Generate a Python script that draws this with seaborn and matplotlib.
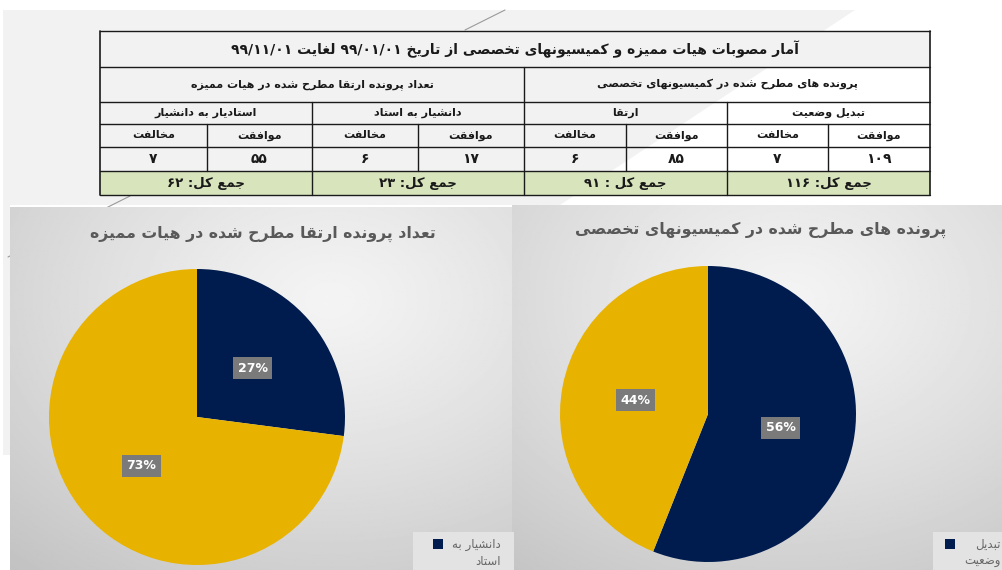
import re
import numpy as np
import matplotlib
matplotlib.use("Agg")
import matplotlib.pyplot as plt
import seaborn as sns
from matplotlib.patches import Rectangle, Polygon

sns.set_theme(style="white")
plt.rcParams['font.family'] = ['DejaVu Sans']

# ---- data (right to left, as in the table) ----
table_title = "آمار مصوبات هیات ممیزه و کمیسیونهای تخصصی از تاریخ ۹۹/۰۱/۰۱ لغایت ۹۹/۱۱/۰۱"
group_titles = ["پرونده های مطرح شده در کمیسیونهای تخصصی",
                "تعداد پرونده ارتقا مطرح شده در هیات ممیزه"]
categories = ["تبدیل وضعیت", "ارتقا", "دانشیار به استاد", "استادیار به دانشیار"]
vote_labels = ["موافقت", "مخالفت"]
approved = [109, 85, 17, 55]
rejected = [7, 6, 6, 7]
total_labels = ["جمع کل: ", "جمع کل : ", "جمع کل: ", "جمع کل: "]

pie_titles = ["تعداد پرونده ارتقا مطرح شده در هیات ممیزه",
              "پرونده های مطرح شده در کمیسیونهای تخصصی"]
pie_cats = [["دانشیار به\nاستاد", "استادیار به دانشیار"],
            ["تبدیل\nوضعیت", "ارتقا"]]
pie_idx = [[2, 3], [0, 1]]
pie_colors = ["#001b4e", "#e8b200"]

# ---- minimal Persian shaping (presentation forms) + visual ordering ----
FORMS = {}
for ch, base, n in [('آ', 0xFE81, 2), ('ا', 0xFE8D, 2), ('ب', 0xFE8F, 4), ('ت', 0xFE95, 4),
                    ('ث', 0xFE99, 4), ('ج', 0xFE9D, 4), ('ح', 0xFEA1, 4), ('خ', 0xFEA5, 4),
                    ('د', 0xFEA9, 2), ('ذ', 0xFEAB, 2), ('ر', 0xFEAD, 2), ('ز', 0xFEAF, 2),
                    ('س', 0xFEB1, 4), ('ش', 0xFEB5, 4), ('ص', 0xFEB9, 4), ('ض', 0xFEBD, 4),
                    ('ط', 0xFEC1, 4), ('ظ', 0xFEC5, 4), ('ع', 0xFEC9, 4), ('غ', 0xFECD, 4),
                    ('ف', 0xFED1, 4), ('ق', 0xFED5, 4), ('ل', 0xFEDD, 4), ('م', 0xFEE1, 4),
                    ('ن', 0xFEE5, 4), ('ه', 0xFEE9, 4), ('و', 0xFEED, 2), ('پ', 0xFB56, 4),
                    ('چ', 0xFB7A, 4), ('ژ', 0xFB8A, 2), ('ک', 0xFB8E, 4), ('گ', 0xFB92, 4),
                    ('ی', 0xFBFC, 4)]:
    FORMS[ch] = tuple(chr(base + k) for k in range(n))

DIG = str.maketrans('0123456789', '۰۱۲۳۴۵۶۷۸۹')


def shape(s):
    s = s.replace('ي', 'ی').replace('ك', 'ک')
    out = []
    for i, c in enumerate(s):
        f = FORMS.get(c)
        if f is None:
            out.append(c)
            continue
        prev = s[i - 1] if i > 0 else ''
        nxt = s[i + 1] if i + 1 < len(s) else ''
        jp = prev in FORMS and len(FORMS[prev]) == 4
        jn = len(f) == 4 and nxt in FORMS
        out.append(f[3 if jp and jn else 2 if jn else 1 if jp else 0])
    return ''.join(out)


def fa(s):
    lines = []
    for line in s.split('\n'):
        runs = re.findall(r'[0-9۰-۹/]+|[^0-9۰-۹/]+', shape(line))
        lines.append(''.join(r if re.match(r'[0-9۰-۹/]', r) else r[::-1] for r in reversed(runs)))
    return '\n'.join(lines)


def fnum(n):
    return str(n).translate(DIG)


totals = [a + r for a, r in zip(approved, rejected)]

W, H = 1003, 570
fig = plt.figure(figsize=(W / 100, H / 100), dpi=100)
ax = fig.add_axes([0, 0, 1, 1])
ax.set_xlim(0, W)
ax.set_ylim(H, 0)
ax.axis('off')

# slide background
ax.add_patch(Polygon([(3, 10), (855, 10), (560, 205), (10, 205), (10, 455), (3, 455)],
                     closed=True, fc='#f2f2f2', ec='none', zorder=0))
ax.plot([505, 465], [10, 30], color='#9a9a9a', lw=0.8, zorder=1)
ax.plot([130, 8], [196, 257], color='#9a9a9a', lw=0.8, zorder=1)

# ---- table ----
col_edges = [930, 828, 727, 626, 524, 418, 312, 207, 100]
row_edges = [31, 67, 102, 124, 147, 171, 195]
x_l, x_r = col_edges[-1], col_edges[0]
ax.add_patch(Rectangle((x_l, row_edges[0]), x_r - x_l, row_edges[1] - row_edges[0],
                       fc='#f2f2f2', ec='none', zorder=2))
ax.add_patch(Rectangle((x_l, row_edges[5]), x_r - x_l, row_edges[6] - row_edges[5],
                       fc='#d8e4bc', ec='none', zorder=2))
lc = '#1a1a1a'
for y in row_edges:
    ax.plot([x_l, x_r], [y, y], color=lc, lw=1.0, zorder=3)
ax.plot([x_l, x_l], [row_edges[0], row_edges[-1]], color=lc, lw=1.2, zorder=3)
ax.plot([x_r, x_r], [row_edges[0], row_edges[-1]], color=lc, lw=1.2, zorder=3)
ax.plot([col_edges[4]] * 2, [row_edges[1], row_edges[-1]], color=lc, lw=1.0, zorder=3)
for k in (2, 6):
    ax.plot([col_edges[k]] * 2, [row_edges[2], row_edges[-1]], color=lc, lw=1.0, zorder=3)
for k in (1, 3, 5, 7):
    ax.plot([col_edges[k]] * 2, [row_edges[3], row_edges[5]], color=lc, lw=1.0, zorder=3)


def cell(c0, c1, r, s, size=8):
    xc = (col_edges[c0] + col_edges[c1]) / 2
    yc = (row_edges[r] + row_edges[r + 1]) / 2
    ax.text(xc, yc, fa(s), ha='center', va='center', fontsize=size,
            fontweight='bold', color='#1a1a1a', zorder=4)


cell(0, 8, 0, table_title, 10)
for g, s in enumerate(group_titles):
    cell(4 * g, 4 * g + 4, 1, s)
for c, s in enumerate(categories):
    cell(2 * c, 2 * c + 2, 2, s)
    cell(2 * c, 2 * c + 1, 3, vote_labels[0])
    cell(2 * c + 1, 2 * c + 2, 3, vote_labels[1])
    cell(2 * c, 2 * c + 1, 4, fnum(approved[c]), 10)
    cell(2 * c + 1, 2 * c + 2, 4, fnum(rejected[c]), 10)
    cell(2 * c, 2 * c + 2, 5, total_labels[c] + fnum(totals[c]), 9.5)

# ---- chart panels ----
panels = [(10, 512, 207, 570, 330, 300), (512, 1003, 205, 570, 790, 300)]
for x0, x1, y0, y1, cx, cy in panels:
    xs = np.linspace(x0, x1, 300)
    ys = np.linspace(y0, y1, 300)
    X, Y = np.meshgrid(xs, ys)
    r = np.hypot((X - cx) / (x1 - x0), (Y - cy) / (y1 - y0))
    v = np.clip(0.955 - 0.2 * r ** 1.2, 0, 1)
    ax.imshow(v, cmap='gray', vmin=0, vmax=1, extent=[x0, x1, y1, y0],
              aspect='auto', zorder=5, interpolation='bilinear')
ax.set_xlim(0, W)
ax.set_ylim(H, 0)

title_pos = [(263, 234), (761, 230)]
for (tx, ty), s in zip(title_pos, pie_titles):
    ax.text(tx, ty, fa(s), ha='center', va='center', fontsize=11.3,
            fontweight='bold', color='#595959', zorder=6)

# legends (only first entry visible, cropped by the slide)
legend_boxes = [(413, 532, 101, 433), (933, 532, 80, 945)]
for lx, ly, lw, sx in legend_boxes:
    ax.add_patch(Rectangle((lx, ly), lw, 40, fc='#e3e3e3', ec='none', zorder=6))
    ax.add_patch(Rectangle((sx, 539), 10, 10, fc=pie_colors[0], ec='none', zorder=7))
text_right = [501, 1001]
for xr, cats in zip(text_right, pie_cats):
    ax.text(xr, 553, fa(cats[0]), ha='right', va='center', fontsize=8.5,
            color='#666666', multialignment='right', linespacing=1.4, zorder=7)

# ---- pies ----
pie_boxes = [(197, 417, 148), (708, 414, 148)]
for (cx, cy, rad), idx in zip(pie_boxes, pie_idx):
    pax = fig.add_axes([(cx - rad) / W, (H - cy - rad) / H, 2 * rad / W, 2 * rad / H])
    pax.set_facecolor('none')
    vals = [totals[i] for i in idx]
    wedges, texts, autotexts = pax.pie(vals, colors=pie_colors, startangle=90,
                                       counterclock=False, autopct='%1.0f%%',
                                       pctdistance=0.5, radius=1,
                                       wedgeprops=dict(linewidth=0))
    for t in autotexts:
        t.set_color('white')
        t.set_fontsize(9)
        t.set_fontweight('bold')
        t.set_bbox(dict(boxstyle='square,pad=0.35', fc='#7a7a7a', ec='none'))
    pax.set_xlim(-1, 1)
    pax.set_ylim(-1, 1)
    pax.axis('off')

fig.savefig("out.png", dpi=100)
